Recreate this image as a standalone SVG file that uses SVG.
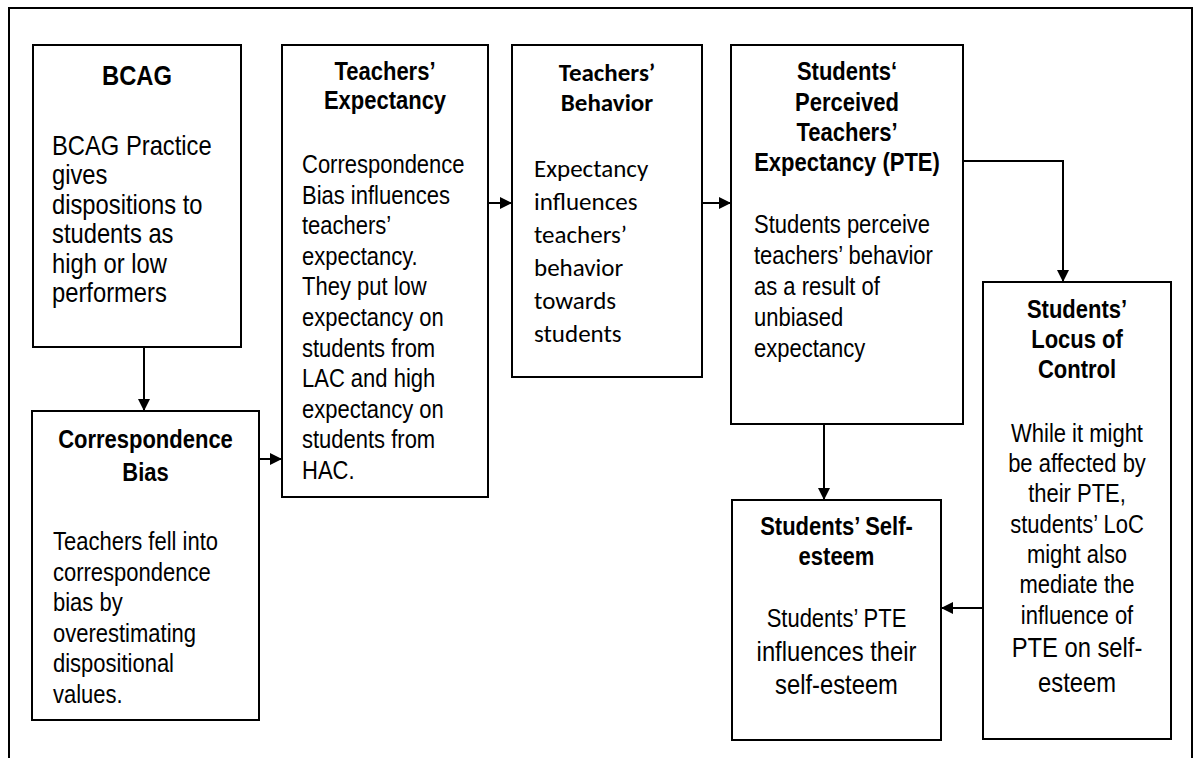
<svg xmlns="http://www.w3.org/2000/svg" width="1200" height="758" viewBox="0 0 1200 758">
<style>
.box{fill:#fff;stroke:#000;stroke-width:2}
.frame{fill:none;stroke:#000;stroke-width:2}
.ln{fill:none;stroke:#000;stroke-width:2}
.t{font-family:"Liberation Sans",Arial,sans-serif;font-size:25px;font-weight:bold;text-anchor:middle;fill:#000}
.b{font-family:"Liberation Sans",Arial,sans-serif;font-size:25px;fill:#000}
.m{text-anchor:middle}
.big{font-size:27px}
.cal{font-family:Carlito,Lato,"Open Sans",sans-serif}
</style>
<defs>
<marker id="ah" markerUnits="userSpaceOnUse" markerWidth="12" markerHeight="12" refX="12" refY="6" orient="auto">
<path d="M0,0 L12,6 L0,12 z" fill="#000"/>
</marker>
</defs>
<rect width="1200" height="758" fill="#fff"/>
<path class="frame" d="M9,760 V8 H1192 V760"/>

<g id="bcag">
<rect class="box" x="33" y="45" width="208" height="302"/>
<g transform="translate(137,0) scale(0.88,1)"><text class="t" x="0" y="85" style="font-size:27px">BCAG</text></g>
<g transform="translate(52,0) scale(0.88,1)"><text class="b big"><tspan x="0" y="155">BCAG Practice</tspan><tspan x="0" y="184">gives</tspan><tspan x="0" y="214">dispositions to</tspan><tspan x="0" y="243">students as</tspan><tspan x="0" y="273">high or low</tspan><tspan x="0" y="302">performers</tspan></text></g>
</g>

<g id="correspondence-bias">
<rect class="box" x="32" y="411" width="227" height="309"/>
<g transform="translate(145.5,0) scale(0.88,1)"><text class="t"><tspan x="0" y="448">Correspondence</tspan><tspan x="0" y="481">Bias</tspan></text></g>
<g transform="translate(53,0) scale(0.88,1)"><text class="b"><tspan x="0" y="550">Teachers fell into</tspan><tspan x="0" y="581">correspondence</tspan><tspan x="0" y="611">bias by</tspan><tspan x="0" y="642">overestimating</tspan><tspan x="0" y="672">dispositional</tspan><tspan x="0" y="703">values.</tspan></text></g>
</g>

<g id="teachers-expectancy">
<rect class="box" x="282" y="45" width="206" height="452"/>
<g transform="translate(385,0) scale(0.88,1)"><text class="t"><tspan x="0" y="80">Teachers’</tspan><tspan x="0" y="109">Expectancy</tspan></text></g>
<g transform="translate(302,0) scale(0.88,1)"><text class="b"><tspan x="0" y="173">Correspondence</tspan><tspan x="0" y="204">Bias influences</tspan><tspan x="0" y="234">teachers’</tspan><tspan x="0" y="265">expectancy.</tspan><tspan x="0" y="295">They put low</tspan><tspan x="0" y="326">expectancy on</tspan><tspan x="0" y="357">students from</tspan><tspan x="0" y="387">LAC and high</tspan><tspan x="0" y="418">expectancy on</tspan><tspan x="0" y="448">students from</tspan><tspan x="0" y="479">HAC.</tspan></text></g>
</g>

<g id="teachers-behavior">
<rect class="box" x="512" y="45" width="190" height="332"/>
<text class="t cal" style="font-size:25px"><tspan x="607" y="81">Teachers’</tspan><tspan x="607" y="111">Behavior</tspan></text>
<text class="b cal" style="font-size:25px"><tspan x="534" y="177">Expectancy</tspan><tspan x="534" y="210">influences</tspan><tspan x="534" y="243">teachers’</tspan><tspan x="534" y="276">behavior</tspan><tspan x="534" y="309">towards</tspan><tspan x="534" y="342">students</tspan></text>
</g>

<g id="pte">
<rect class="box" x="731" y="45" width="232" height="379"/>
<g transform="translate(847,0) scale(0.88,1)"><text class="t"><tspan x="0" y="80">Students‘</tspan><tspan x="0" y="111">Perceived</tspan><tspan x="0" y="141">Teachers’</tspan><tspan x="0" y="171">Expectancy (PTE)</tspan></text></g>
<g transform="translate(754,0) scale(0.88,1)"><text class="b"><tspan x="0" y="233">Students perceive</tspan><tspan x="0" y="264">teachers’ behavior</tspan><tspan x="0" y="295">as a result of</tspan><tspan x="0" y="326">unbiased</tspan><tspan x="0" y="357">expectancy</tspan></text></g>
</g>

<g id="locus-of-control">
<rect class="box" x="983" y="282" width="188" height="457"/>
<g transform="translate(1077,0) scale(0.88,1)"><text class="t"><tspan x="0" y="318">Students’</tspan><tspan x="0" y="348">Locus of</tspan><tspan x="0" y="378">Control</tspan></text>
<text class="b m"><tspan x="0" y="442">While it might</tspan><tspan x="0" y="472">be affected by</tspan><tspan x="0" y="502">their PTE,</tspan><tspan x="0" y="533">students’ LoC</tspan><tspan x="0" y="563">might also</tspan><tspan x="0" y="593">mediate the</tspan><tspan x="0" y="624">influence of</tspan><tspan x="0" y="657" class="big">PTE on self-</tspan><tspan x="0" y="692" class="big">esteem</tspan></text></g>
</g>

<g id="self-esteem">
<rect class="box" x="732" y="500" width="209" height="240"/>
<g transform="translate(836.5,0) scale(0.88,1)"><text class="t"><tspan x="0" y="535">Students’ Self-</tspan><tspan x="0" y="565">esteem</tspan></text>
<text class="b m"><tspan x="0" y="627">Students’ PTE</tspan><tspan x="0" y="661" class="big">influences their</tspan><tspan x="0" y="694" class="big">self-esteem</tspan></text></g>
</g>

<g id="connectors">
<line class="ln" x1="144" y1="347" x2="144" y2="411" marker-end="url(#ah)"/>
<line class="ln" x1="259" y1="459" x2="282" y2="459" marker-end="url(#ah)"/>
<line class="ln" x1="488" y1="203" x2="512" y2="203" marker-end="url(#ah)"/>
<line class="ln" x1="702" y1="203" x2="731" y2="203" marker-end="url(#ah)"/>
<path class="ln" d="M963,161 H1063 V282" marker-end="url(#ah)"/>
<line class="ln" x1="824" y1="424" x2="824" y2="500" marker-end="url(#ah)"/>
<line class="ln" x1="983" y1="608" x2="941" y2="608" marker-end="url(#ah)"/>
</g>
</svg>
